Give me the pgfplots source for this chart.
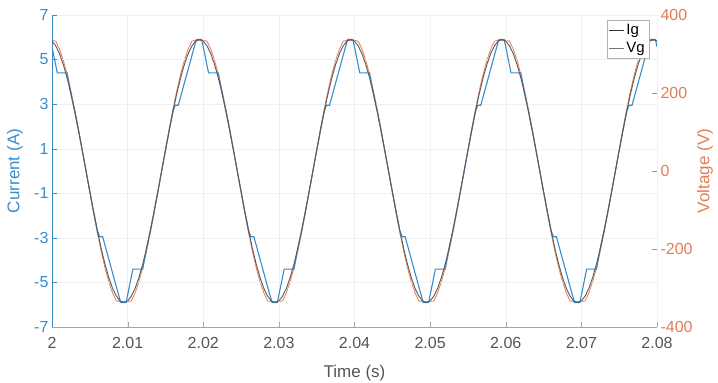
\documentclass[border=0pt]{standalone}
\usepackage{fontspec}
\setmainfont{Liberation Sans}
\usepackage{pgfplots}
\usepackage{pgfplotstable}
\pgfplotsset{compat=1.18}
\definecolor{lblue}{RGB}{60,140,200}
\definecolor{lorange}{RGB}{225,125,85}
\definecolor{cblue}{RGB}{55,140,205}
\definecolor{corange}{RGB}{232,135,95}
\definecolor{cgray}{RGB}{90,90,90}
\definecolor{tgray}{RGB}{85,85,85}

% Ig (stepped current)
\pgfplotstableread{
t I
2.0000 5.57
2.0007 4.4
2.0020 4.4
2.0025 3.47
2.0030 2.68
2.0035 1.82
2.0040 0.92
2.0045 0
2.0050 -0.92
2.0055 -1.82
2.0060 -2.68
2.0063 -2.95
2.0067 -2.95
2.0087 -5.43
2.0091 -5.9
2.0098 -5.9
2.0107 -4.4
2.0120 -4.4
2.0125 -3.47
2.0130 -2.68
2.0135 -1.82
2.0140 -0.92
2.0145 0
2.0150 0.92
2.0155 1.82
2.0160 2.68
2.0163 2.95
2.0167 2.95
2.0187 5.43
2.0191 5.9
2.0198 5.9
2.0207 4.4
2.0220 4.4
2.0225 3.47
2.0230 2.68
2.0235 1.82
2.0240 0.92
2.0245 0
2.0250 -0.92
2.0255 -1.82
2.0260 -2.68
2.0263 -2.95
2.0267 -2.95
2.0287 -5.43
2.0291 -5.9
2.0298 -5.9
2.0307 -4.4
2.0320 -4.4
2.0325 -3.47
2.0330 -2.68
2.0335 -1.82
2.0340 -0.92
2.0345 0
2.0350 0.92
2.0355 1.82
2.0360 2.68
2.0363 2.95
2.0367 2.95
2.0387 5.43
2.0391 5.9
2.0398 5.9
2.0407 4.4
2.0420 4.4
2.0425 3.47
2.0430 2.68
2.0435 1.82
2.0440 0.92
2.0445 0
2.0450 -0.92
2.0455 -1.82
2.0460 -2.68
2.0463 -2.95
2.0467 -2.95
2.0487 -5.43
2.0491 -5.9
2.0498 -5.9
2.0507 -4.4
2.0520 -4.4
2.0525 -3.47
2.0530 -2.68
2.0535 -1.82
2.0540 -0.92
2.0545 0
2.0550 0.92
2.0555 1.82
2.0560 2.68
2.0563 2.95
2.0567 2.95
2.0587 5.43
2.0591 5.9
2.0598 5.9
2.0607 4.4
2.0620 4.4
2.0625 3.47
2.0630 2.68
2.0635 1.82
2.0640 0.92
2.0645 0
2.0650 -0.92
2.0655 -1.82
2.0660 -2.68
2.0663 -2.95
2.0667 -2.95
2.0687 -5.43
2.0691 -5.9
2.0698 -5.9
2.0707 -4.4
2.0720 -4.4
2.0725 -3.47
2.0730 -2.68
2.0735 -1.82
2.0740 -0.92
2.0745 0
2.0750 0.92
2.0755 1.82
2.0760 2.68
2.0763 2.95
2.0767 2.95
2.0787 5.43
2.0791 5.9
2.0798 5.9
2.0800 5.57
}\igdata

% reference current (gray) and grid voltage Vg
\pgfplotstableread{
t R V
2.0000 5.83 335
2.0005 5.61 332.9
2.0010 5.26 311.9
2.0015 4.77 283.2
2.0020 4.17 247.5
2.0025 3.47 205.7
2.0030 2.68 158.9
2.0035 1.82 108.2
2.0040 0.92 54.7
2.0045 0 0
2.0050 -0.92 -54.7
2.0055 -1.82 -108.2
2.0060 -2.68 -158.9
2.0065 -3.47 -205.7
2.0070 -4.17 -247.5
2.0075 -4.77 -283.2
2.0080 -5.26 -311.9
2.0085 -5.61 -332.9
2.0090 -5.83 -335
2.0095 -5.9 -335
2.0100 -5.83 -335
2.0105 -5.61 -332.9
2.0110 -5.26 -311.9
2.0115 -4.77 -283.2
2.0120 -4.17 -247.5
2.0125 -3.47 -205.7
2.0130 -2.68 -158.9
2.0135 -1.82 -108.2
2.0140 -0.92 -54.7
2.0145 0 0
2.0150 0.92 54.7
2.0155 1.82 108.2
2.0160 2.68 158.9
2.0165 3.47 205.7
2.0170 4.17 247.5
2.0175 4.77 283.2
2.0180 5.26 311.9
2.0185 5.61 332.9
2.0190 5.83 335
2.0195 5.9 335
2.0200 5.83 335
2.0205 5.61 332.9
2.0210 5.26 311.9
2.0215 4.77 283.2
2.0220 4.17 247.5
2.0225 3.47 205.7
2.0230 2.68 158.9
2.0235 1.82 108.2
2.0240 0.92 54.7
2.0245 0 0
2.0250 -0.92 -54.7
2.0255 -1.82 -108.2
2.0260 -2.68 -158.9
2.0265 -3.47 -205.7
2.0270 -4.17 -247.5
2.0275 -4.77 -283.2
2.0280 -5.26 -311.9
2.0285 -5.61 -332.9
2.0290 -5.83 -335
2.0295 -5.9 -335
2.0300 -5.83 -335
2.0305 -5.61 -332.9
2.0310 -5.26 -311.9
2.0315 -4.77 -283.2
2.0320 -4.17 -247.5
2.0325 -3.47 -205.7
2.0330 -2.68 -158.9
2.0335 -1.82 -108.2
2.0340 -0.92 -54.7
2.0345 0 0
2.0350 0.92 54.7
2.0355 1.82 108.2
2.0360 2.68 158.9
2.0365 3.47 205.7
2.0370 4.17 247.5
2.0375 4.77 283.2
2.0380 5.26 311.9
2.0385 5.61 332.9
2.0390 5.83 335
2.0395 5.9 335
2.0400 5.83 335
2.0405 5.61 332.9
2.0410 5.26 311.9
2.0415 4.77 283.2
2.0420 4.17 247.5
2.0425 3.47 205.7
2.0430 2.68 158.9
2.0435 1.82 108.2
2.0440 0.92 54.7
2.0445 0 0
2.0450 -0.92 -54.7
2.0455 -1.82 -108.2
2.0460 -2.68 -158.9
2.0465 -3.47 -205.7
2.0470 -4.17 -247.5
2.0475 -4.77 -283.2
2.0480 -5.26 -311.9
2.0485 -5.61 -332.9
2.0490 -5.83 -335
2.0495 -5.9 -335
2.0500 -5.83 -335
2.0505 -5.61 -332.9
2.0510 -5.26 -311.9
2.0515 -4.77 -283.2
2.0520 -4.17 -247.5
2.0525 -3.47 -205.7
2.0530 -2.68 -158.9
2.0535 -1.82 -108.2
2.0540 -0.92 -54.7
2.0545 0 0
2.0550 0.92 54.7
2.0555 1.82 108.2
2.0560 2.68 158.9
2.0565 3.47 205.7
2.0570 4.17 247.5
2.0575 4.77 283.2
2.0580 5.26 311.9
2.0585 5.61 332.9
2.0590 5.83 335
2.0595 5.9 335
2.0600 5.83 335
2.0605 5.61 332.9
2.0610 5.26 311.9
2.0615 4.77 283.2
2.0620 4.17 247.5
2.0625 3.47 205.7
2.0630 2.68 158.9
2.0635 1.82 108.2
2.0640 0.92 54.7
2.0645 0 0
2.0650 -0.92 -54.7
2.0655 -1.82 -108.2
2.0660 -2.68 -158.9
2.0665 -3.47 -205.7
2.0670 -4.17 -247.5
2.0675 -4.77 -283.2
2.0680 -5.26 -311.9
2.0685 -5.61 -332.9
2.0690 -5.83 -335
2.0695 -5.9 -335
2.0700 -5.83 -335
2.0705 -5.61 -332.9
2.0710 -5.26 -311.9
2.0715 -4.77 -283.2
2.0720 -4.17 -247.5
2.0725 -3.47 -205.7
2.0730 -2.68 -158.9
2.0735 -1.82 -108.2
2.0740 -0.92 -54.7
2.0745 0 0
2.0750 0.92 54.7
2.0755 1.82 108.2
2.0760 2.68 158.9
2.0765 3.47 205.7
2.0770 4.17 247.5
2.0775 4.77 283.2
2.0780 5.26 311.9
2.0785 5.61 332.9
2.0790 5.83 335
2.0795 5.9 335
2.0800 5.83 335
}\vgdata

\begin{document}
\begin{tikzpicture}
\pgfplotsset{
  common/.style={
    at={(0,0)}, anchor=south west,
    scale only axis, width=605pt, height=312pt,
    xmin=2, xmax=2.08,
    tick align=inside, major tick length=5pt,
    tick label style={font=\fontsize{16}{19}\selectfont},
    label style={font=\fontsize{17}{20}\selectfont},
    /pgf/number format/assume math mode=true,
  }
}
% right axis: voltage
\begin{axis}[common,
  ymin=-400, ymax=400,
  axis x line=none, axis y line*=right,
  y axis line style={lorange},
  ytick={-400,-200,0,200,400},
  yticklabels={-400,-200,0,200,400},
  yticklabel style={lorange},
  ytick style={lorange},
  ylabel={Voltage (V)},
  ylabel style={lorange, at={(axis description cs:1,0.5)}, anchor=center, yshift=-48pt},
]
\addplot[corange, line width=0.9pt] table[x=t, y=V] {\vgdata};
\end{axis}
% left axis: current
\begin{axis}[common,
  ymin=-7, ymax=7,
  axis x line*=bottom, axis y line*=left,
  x axis line style={gray!70},
  y axis line style={lblue},
  xtick={2,2.01,2.02,2.03,2.04,2.05,2.06,2.07,2.08},
  xticklabels={2,2.01,2.02,2.03,2.04,2.05,2.06,2.07,2.08},
  xticklabel style={tgray, yshift=-7pt},
  xtick style={gray!70},
  ytick={-7,-5,-3,-1,1,3,5,7},
  yticklabels={-7,-5,-3,-1,1,3,5,7},
  yticklabel style={lblue},
  ytick style={lblue},
  grid=major, grid style={gray!12, line width=0.4pt},
  xlabel={Time (s)},
  xlabel style={tgray, at={(axis description cs:0.5,0)}, anchor=center, yshift=-46pt},
  ylabel={Current (A)},
  ylabel style={lblue, at={(axis description cs:0,0.5)}, anchor=center, yshift=37pt},
  legend style={at={(axis description cs:1,1)}, anchor=north east, xshift=-8pt, yshift=-5pt,
    draw=gray!60, fill=white, font=\fontsize{15}{16}\selectfont, inner sep=2pt,
    row sep=2pt, cells={anchor=west}},
  legend image code/.code={\draw[#1] (0pt,0pt) -- (15pt,0pt);},
]
\addplot[cblue, line width=1.1pt, forget plot] table[x=t, y=I] {\igdata};
\addplot[cgray, line width=0.9pt, forget plot] table[x=t, y=R] {\vgdata};
\addlegendimage{black!80, line width=0.7pt}
\addlegendentry{Ig}
\addlegendimage{black!55, line width=0.7pt}
\addlegendentry{Vg}
\end{axis}
\pgfresetboundingbox
\path (-52pt,-56pt) rectangle (666pt,327pt);
\end{tikzpicture}
\end{document}
